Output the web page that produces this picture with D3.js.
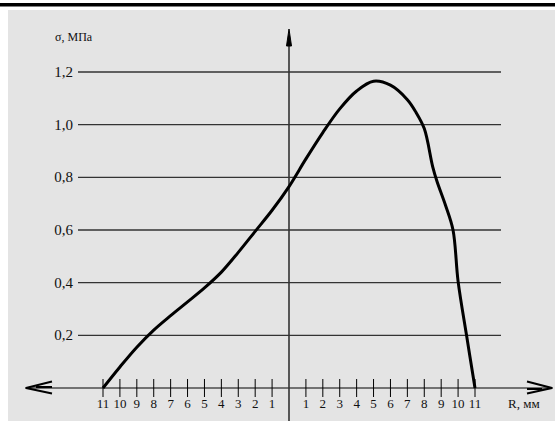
<!DOCTYPE html>
<html>
<head>
<meta charset="utf-8">
<script src="https://cdn.jsdelivr.net/npm/d3@7"></script>
<style>
	body { margin: 0; background: #fff; }
	text { font-family: "Liberation Serif", "DejaVu Serif", serif; fill: #111; }
</style>
</head>
<body>
<div id="chart"></div>
<script>
"use strict"

// radius, mm (left side negative), and stress, MPa
let radius = [-11, -10, -9, -8, -7, -6, -5, -4, -3, -2, -1, 0, 1, 2, 3, 4, 5, 6, 7, 7.5, 8, 8.5, 8.75, 9.25, 9.7, 10, 10.5, 11];
let sigma  = [0, 0.08, 0.155, 0.22, 0.275, 0.327, 0.38, 0.44, 0.515, 0.595, 0.675, 0.765, 0.87, 0.97, 1.06, 1.128, 1.165, 1.15, 1.095, 1.048, 0.985, 0.84, 0.785, 0.695, 0.6, 0.405, 0.2, 0];

let yTicks = [0.2, 0.4, 0.6, 0.8, 1.0, 1.2];
let xTicks = [-11, -10, -9, -8, -7, -6, -5, -4, -3, -2, -1, 1, 2, 3, 4, 5, 6, 7, 8, 9, 10, 11];

let yTitle = "σ, МПа";
let xTitle = "R, мм";

let StressChart = function(targetID) {
	let self = {
		width: 555,
		height: 421,
		xScale: d3.scaleLinear().domain([-11, 11]).range([103, 475]),
		yScale: d3.scaleLinear().domain([0, 1.2]).range([388, 72]),
		svg: null,
	};

	function draw() {
		self.svg = d3.select(targetID).append("svg")
			.attr("width", self.width)
			.attr("height", self.height);

		// top rule and grey panel
		self.svg.append("rect").attr("x", 0).attr("y", 3).attr("width", self.width).attr("height", 3.5).style("fill", "#000");
		self.svg.append("rect").attr("x", 8).attr("y", 10).attr("width", self.width - 8).attr("height", self.height - 10).style("fill", "#e4e4e4");

		let x = self.xScale, y = self.yScale;
		let x0 = x(0), y0 = y(0);
		let fmt = d => d3.format(".1f")(d).replace(".", ",");

		// horizontal grid lines
		let grid = self.svg.append("g").attr("class", "grid");
		grid.selectAll("line")
			.data(yTicks)
			.enter().append("line")
				.attr("x1", 78).attr("x2", 501)
				.attr("y1", d => y(d)).attr("y2", d => y(d))
				.style("stroke", "#333").style("stroke-width", 1.4);
		grid.selectAll("text")
			.data(yTicks)
			.enter().append("text")
				.attr("x", 73).attr("y", d => y(d) + 5)
				.attr("text-anchor", "end")
				.style("font-size", "15px")
				.text(fmt);

		// x axis with arrows both ends
		let axis = self.svg.append("g").attr("class", "x_axis");
		axis.append("line")
			.attr("x1", 25).attr("x2", 553).attr("y1", y0).attr("y2", y0)
			.style("stroke", "#000").style("stroke-width", 1.2);
		axis.append("path")
			.attr("d", `M52,${y0 - 6.5}L26,${y0}L52,${y0 + 5.5}M36,${y0 - 1}L52,${y0 - 1}`)
			.style("fill", "none").style("stroke", "#000").style("stroke-width", 2);
		axis.append("path")
			.attr("d", `M527,${y0 - 6.5}L552,${y0}L527,${y0 + 5.5}M527,${y0 + 1}L542,${y0 + 1}`)
			.style("fill", "none").style("stroke", "#000").style("stroke-width", 2);
		axis.selectAll(".tick")
			.data(xTicks)
			.enter().append("line")
				.attr("class", "tick")
				.attr("x1", d => x(d)).attr("x2", d => x(d))
				.attr("y1", y0 - 9).attr("y2", y0 + 9)
				.style("stroke", "#000").style("stroke-width", 1);
		axis.selectAll(".tick_label")
			.data(xTicks)
			.enter().append("text")
				.attr("class", "tick_label")
				.attr("x", d => x(d)).attr("y", y0 + 20)
				.attr("text-anchor", "middle")
				.style("font-size", "13px")
				.text(d => Math.abs(d));
		axis.append("text")
			.attr("x", 508).attr("y", y0 + 20)
			.style("font-size", "13px")
			.text(xTitle);

		// y axis with arrow on top
		let yAxis = self.svg.append("g").attr("class", "y_axis");
		yAxis.append("line")
			.attr("x1", x0).attr("x2", x0).attr("y1", 36).attr("y2", self.height)
			.style("stroke", "#333").style("stroke-width", 1.6);
		yAxis.append("path")
			.attr("d", `M${x0},29L${x0 + 2.5},46L${x0 - 2.5},46Z`)
			.style("fill", "#000").style("stroke", "#000").style("stroke-width", 1);
		yAxis.append("text")
			.attr("x", 55).attr("y", 41)
			.style("font-size", "12px")
			.text(yTitle);

		// stress curve
		let line = d3.line()
			.x(d => x(d[0]))
			.y(d => y(d[1]))
			.curve(d3.curveCatmullRom.alpha(0.5));

		self.svg.append("path")
			.datum(radius.map((r, i) => [r, sigma[i]]))
			.attr("d", line)
			.style("fill", "none")
			.style("stroke", "#000")
			.style("stroke-width", 3)
			.style("stroke-linejoin", "round");
	}

	return {
		draw,
	};
}

StressChart("#chart").draw();
</script>
</body>
</html>
